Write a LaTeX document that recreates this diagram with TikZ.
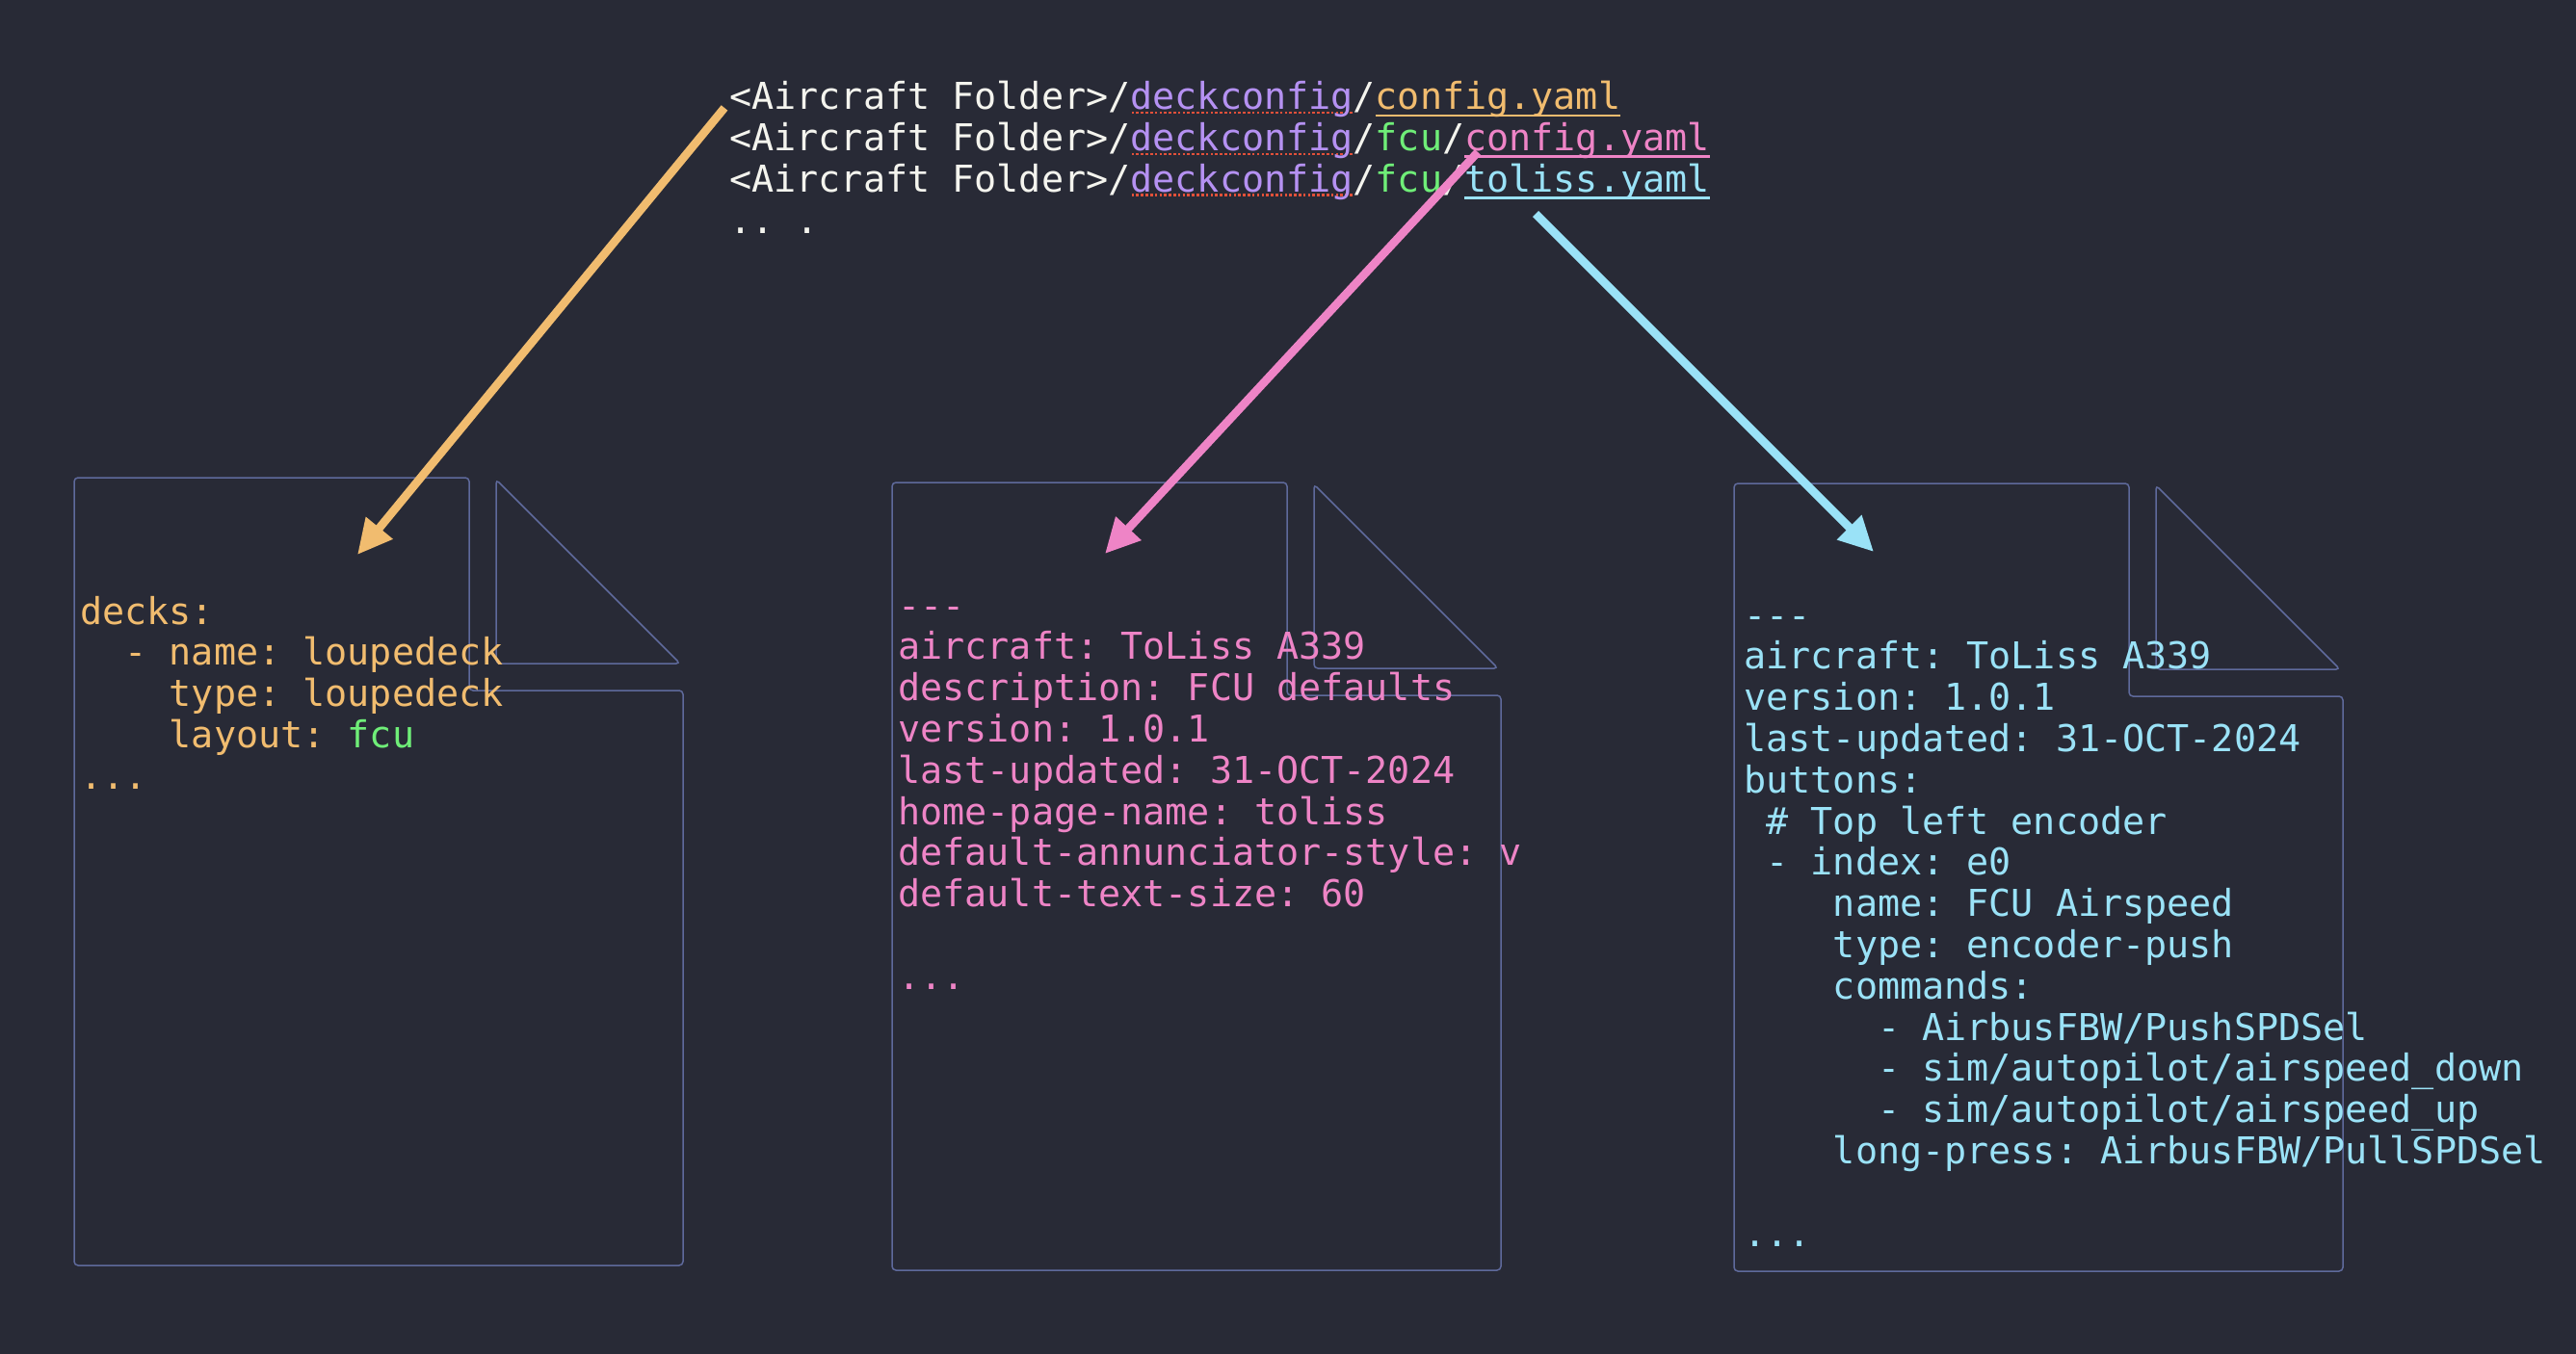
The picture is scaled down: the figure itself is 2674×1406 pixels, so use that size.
\documentclass[tikz,border=0pt]{standalone}
\usepackage{fontspec}
\setmonofont{DejaVu Sans Mono}
\usetikzlibrary{arrows.meta}
\definecolor{bg}{HTML}{282A36}
\definecolor{fgw}{HTML}{F4F4EE}
\definecolor{purp}{HTML}{B591F2}
\definecolor{dorange}{HTML}{F1BC6F}
\definecolor{dpink}{HTML}{EE84C6}
\definecolor{dcyan}{HTML}{9AE2F7}
\definecolor{dgreen}{HTML}{6FEE78}
\definecolor{docl}{HTML}{5F6A9C}
\definecolor{squig}{HTML}{E2503A}
\newcommand\yl[1]{\hbox{#1}}
\newcommand\codeblock[1]{\vtop{\baselineskip=21.4pt\lineskiplimit=-50pt\lineskip=0pt #1}}
\newcommand\ulw[2]{\setbox0\hbox{#2}\rlap{\color{#1}\rule[-3.6pt]{\wd0}{1.3pt}}\box0}
\newcommand\dotul[1]{\setbox0\hbox{#1}\rlap{\color{squig}\hbox to\wd0{\xleaders\hbox to 2.4pt{\hss\rule[-2.2pt]{1.3pt}{1.3pt}\hss}\hfill}}\box0}
\newcommand\docshape[2]{%
  \draw[docline, shift={(#1,#2)}] (0,0) -- (410,0) -- (410,221) -- (632,221) -- (632,818) -- (0,818) -- cycle;
  \draw[docline, shift={(#1,#2)}] (438,2) -- (438,193) -- (629,193) -- cycle;}
\tikzset{
  docline/.style={draw=docl, line width=0.75pt, rounded corners=2pt},
  codetxt/.style={anchor=base west, inner sep=0pt, font=\ttfamily\fontsize{19.2}{21.4}\selectfont},
  arr/.style={line width=4.3pt, -{Triangle[length=18pt,width=17pt]}},
}
\begin{document}
\begin{tikzpicture}[x=0.5pt, y=-0.5pt]
\fill[bg] (0,0) rectangle (2674,1406);
\useasboundingbox (0,0) rectangle (2674,1406);

% documents
\docshape{77}{496}
\docshape{926}{501}
\docshape{1800}{502}

% path list
\node[codetxt, text=fgw] (paths) at (757,114) {\codeblock{%
\yl{<Aircraft Folder>/\dotul{\textcolor{purp}{deckconfig}}/\ulw{dorange}{\textcolor{dorange}{config.yaml}}}%
\yl{<Aircraft Folder>/\dotul{\textcolor{purp}{deckconfig}}/\textcolor{dgreen}{fcu}/\ulw{dpink}{\textcolor{dpink}{config.yaml}}}%
\yl{<Aircraft Folder>/\dotul{\textcolor{purp}{deckconfig}}/\textcolor{dgreen}{fcu}/\ulw{dcyan}{\textcolor{dcyan}{toliss.yaml}}}%
\yl{..~.}}};

% left document
\node[codetxt, text=dorange] (deckscfg) at (83,648) {\codeblock{%
\yl{decks:}%
\yl{~~-~name:~loupedeck}%
\yl{~~~~type:~loupedeck}%
\yl{~~~~layout:~\textcolor{dgreen}{fcu}}%
\yl{...}}};

% middle document
\node[codetxt, text=dpink] (fcucfg) at (932,642) {\codeblock{%
\yl{-{}-{}-}%
\yl{aircraft:~ToLiss A339}%
\yl{description:~FCU defaults}%
\yl{version:~1.0.1}%
\yl{last-updated:~31-OCT-2024}%
\yl{home-page-name:~toliss}%
\yl{default-annunciator-style:~v}%
\yl{default-text-size:~60}%
\yl{}%
\yl{...}}};

% right document
\node[codetxt, text=dcyan] (toliss) at (1810,652) {\codeblock{%
\yl{-{}-{}-}%
\yl{aircraft:~ToLiss A339}%
\yl{version:~1.0.1}%
\yl{last-updated:~31-OCT-2024}%
\yl{buttons:}%
\yl{~\#~Top left encoder}%
\yl{~-~index:~e0}%
\yl{~~~~name:~FCU Airspeed}%
\yl{~~~~type:~encoder-push}%
\yl{~~~~commands:}%
\yl{~~~~~~-~AirbusFBW/PushSPDSel}%
\yl{~~~~~~-~sim/autopilot/airspeed\_down}%
\yl{~~~~~~-~sim/autopilot/airspeed\_up}%
\yl{~~~~long-press:~AirbusFBW/PullSPDSel}%
\yl{}%
\yl{...}}};

% arrows
\coordinate (s1) at (752,112);
\coordinate (t1) at (371,576);
\coordinate (s2) at (1534,158);
\coordinate (t2) at (1147,575);
\coordinate (s3) at (1594,222);
\coordinate (t3) at (1945,573);
\draw[arr, draw=dorange, fill=dorange] (s1) -- (t1);
\draw[arr, draw=dpink, fill=dpink] (s2) -- (t2);
\draw[arr, draw=dcyan, fill=dcyan] (s3) -- (t3);
\end{tikzpicture}
\end{document}
